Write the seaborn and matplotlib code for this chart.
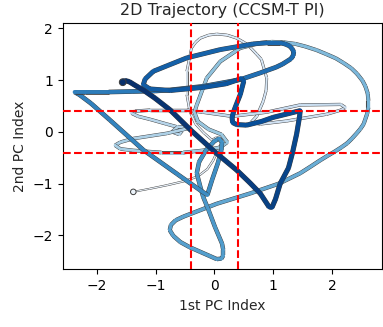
import numpy as np
import pandas as pd
import matplotlib
matplotlib.use("Agg")
import matplotlib.pyplot as plt
import matplotlib.patheffects as pe
import seaborn as sns

# Trajectory in the plane of the first two principal components, in time order
pc1 = [
    # early, faint tail and small central loop
    -1.38, -1.10, -0.80, -0.50, -0.28, -0.12, -0.02, 0.04, 0.09, 0.13, 0.10, 0.03, -0.04,
    # pale upper loop
    -0.18, -0.32, -0.42, -0.47, -0.47, -0.39, -0.32, -0.24, -0.10, 0.04, 0.22, 0.38,
    0.52, 0.62, 0.72, 0.80, 0.89, 0.88, 0.83, 0.72, 0.62,
    # pale right lobe
    0.78, 1.23, 1.91, 2.15, 2.23, 2.15, 1.46, 0.89, 0.30, -0.20,
    # pale left lobes
    -0.47, -1.09, -1.35, -1.41, -1.30, -1.09, -0.81, -0.65, -0.55, -0.60, -0.72, -0.62,
    -0.40, -0.81, -1.38, -1.60, -1.69, -1.60, -1.38, -0.90, -0.53, -0.20, 0.10, 0.22,
    0.12, -0.10, -0.28, -0.34,
    # large ellipse
    -0.30, -0.13, 0.10, 0.44, 0.78, 0.98, 1.18, 1.38, 1.55, 1.74, 1.91, 2.07, 2.20,
    2.33, 2.43, 2.52, 2.57, 2.61, 2.62, 2.62, 2.60, 2.57, 2.54, 2.48, 2.42, 2.34,
    2.26, 2.16, 2.05, 1.93, 1.80, 1.64, 1.46, 1.10, 0.61, 0.04, -0.53,
    # lower loop and petal
    -0.66, -0.74, -0.76, -0.70, -0.58, -0.42, -0.24, -0.08, 0.04, 0.12, 0.15, 0.15,
    0.13, 0.01, -0.10, -0.19, -0.24, -0.30, -0.26, -0.14, 0.00, 0.08, 0.13, 0.12,
    0.06, -0.04, -0.12,
    # long diagonal towards the left tip
    -0.24, -0.64, -1.21, -1.78, -2.10, -2.30, -2.38,
    # horizontal pass and upper dark loop
    -2.20, -1.80, -1.40, -1.00, -0.75, -0.19, 0.44, 0.78, 1.05, 1.16, 1.23, 1.30,
    1.34, 1.35, 1.32, 1.28, 1.20, 1.12, 0.90, 0.66, 0.10, -0.47, -0.80, -1.04, -1.18,
    -1.21, -1.10, -0.75, -0.19, 0.20, 0.46,
    # zig-zag on the right
    0.50, 0.47, 0.44, 0.38, 0.33, 0.30, 0.31, 0.38, 0.55, 0.80, 1.00, 1.25, 1.46,
    1.45, 1.40, 1.33, 1.26, 1.12, 1.04, 0.98,
    # final diagonal
    0.93, 0.78, 0.60, 0.38, 0.00, -0.40, -0.75, -1.01, -1.20, -1.35, -1.45, -1.52, -1.56,
]
pc2 = [
    -1.16, -1.10, -1.03, -0.95, -0.86, -0.72, -0.55, -0.40, -0.28, -0.19, -0.12, -0.11, -0.16,
    -0.02, 0.15, 0.40, 0.72, 1.17, 1.62, 1.73, 1.81, 1.87, 1.89, 1.87, 1.81,
    1.72, 1.62, 1.50, 1.40, 1.04, 0.80, 0.59, 0.30, 0.18,
    0.15, 0.21, 0.34, 0.42, 0.47, 0.53, 0.52, 0.38, 0.30, 0.38,
    0.42, 0.42, 0.40, 0.36, 0.30, 0.24, 0.15, 0.10, 0.02, -0.05, 0.00, 0.10,
    0.08, -0.03, -0.13, -0.20, -0.26, -0.33, -0.36, -0.40, -0.40, -0.36, -0.30, -0.20,
    -0.05, 0.05, 0.20, 0.38,
    0.52, 1.04, 1.36, 1.62, 1.72, 1.74, 1.73, 1.70, 1.65, 1.58, 1.50, 1.42, 1.33,
    1.23, 1.12, 0.99, 0.88, 0.74, 0.60, 0.47, 0.35, 0.25, 0.15, 0.05, -0.03, -0.13,
    -0.22, -0.30, -0.38, -0.46, -0.55, -0.67, -0.80, -1.00, -1.19, -1.39, -1.64,
    -1.71, -1.80, -1.90, -2.01, -2.13, -2.23, -2.32, -2.40, -2.46, -2.45, -2.39, -2.28,
    -2.16, -1.84, -1.51, -1.26, -1.06, -0.80, -0.58, -0.35, -0.18, -0.13, -0.20, -0.35,
    -0.60, -0.93, -1.22,
    -1.13, -0.81, -0.35, 0.23, 0.55, 0.72, 0.77,
    0.77, 0.77, 0.78, 0.79, 0.81, 0.88, 1.01, 1.14, 1.25, 1.31, 1.36, 1.41,
    1.47, 1.55, 1.61, 1.66, 1.70, 1.72, 1.72, 1.70, 1.59, 1.43, 1.28, 1.17, 1.02,
    0.91, 0.83, 0.80, 0.86, 0.93, 1.03,
    0.98, 0.85, 0.72, 0.55, 0.40, 0.28, 0.18, 0.14, 0.13, 0.20, 0.28, 0.35, 0.41,
    0.30, -0.04, -0.40, -0.70, -1.00, -1.30, -1.46,
    -1.45, -1.19, -0.98, -0.74, -0.38, 0.03, 0.42, 0.65, 0.80, 0.90, 0.97, 0.99, 0.96,
]

threshold = 0.4
x_ticks = [-2, -1, 0, 1, 2]
y_ticks = [-2, -1, 0, 1, 2]

x = np.asarray(pc1, dtype=float)
y = np.asarray(pc2, dtype=float)

# progress along the path (0 at start, 1 at end) drives colour and width
step = np.hypot(np.diff(x), np.diff(y))
progress = np.concatenate([[0.0], np.cumsum(step)]) / step.sum()
traj = pd.DataFrame({"pc1": x, "pc2": y, "progress": progress})

sns.set_style("ticks")
plt.rcParams["font.family"] = ["DejaVu Sans"]

fig = plt.figure(figsize=(3.83, 3.27), dpi=100)
ax = fig.add_axes([0.164, 0.176, 0.833, 0.753])

cmap = plt.get_cmap("Blues")
edge = "#3c3c3c"
for i in range(len(x) - 1):
    t = 0.5 * (progress[i] + progress[i + 1])
    lw = 0.6 + 2.6 * np.sqrt(t)
    ax.plot(x[i:i + 2], y[i:i + 2], color=cmap(0.06 + 0.94 * t), lw=lw,
            solid_capstyle="round", zorder=2,
            path_effects=[pe.Stroke(linewidth=lw + 0.6, foreground=edge,
                                    capstyle="butt"), pe.Normal()])

# start and end points of the trajectory
ends = traj.iloc[[0, -1]]
sns.scatterplot(data=ends, x="pc1", y="pc2", hue="progress", palette="Blues",
                hue_norm=(-0.06, 1.0), s=[16, 24], edgecolor=edge, linewidth=0.7,
                legend=False, zorder=3, ax=ax)

for v in (-threshold, threshold):
    ax.axvline(v, color="red", ls="--", lw=1.5, zorder=4)
    ax.axhline(v, color="red", ls="--", lw=1.5, zorder=4)

ax.set_xlim(-2.58, 2.85)
ax.set_ylim(-2.66, 2.10)
ax.set_xticks(x_ticks)
ax.set_yticks(y_ticks)
ax.tick_params(labelsize=10, length=3.5, width=0.8, colors="black")
for s in ax.spines.values():
    s.set_color("black")
    s.set_linewidth(0.8)
ax.set_title("2D Trajectory (CCSM-T PI)", fontsize=11.5)
ax.set_xlabel("1st PC Index", fontsize=10)
ax.set_ylabel("2nd PC Index", fontsize=10)

fig.savefig("out.png", dpi=100)
